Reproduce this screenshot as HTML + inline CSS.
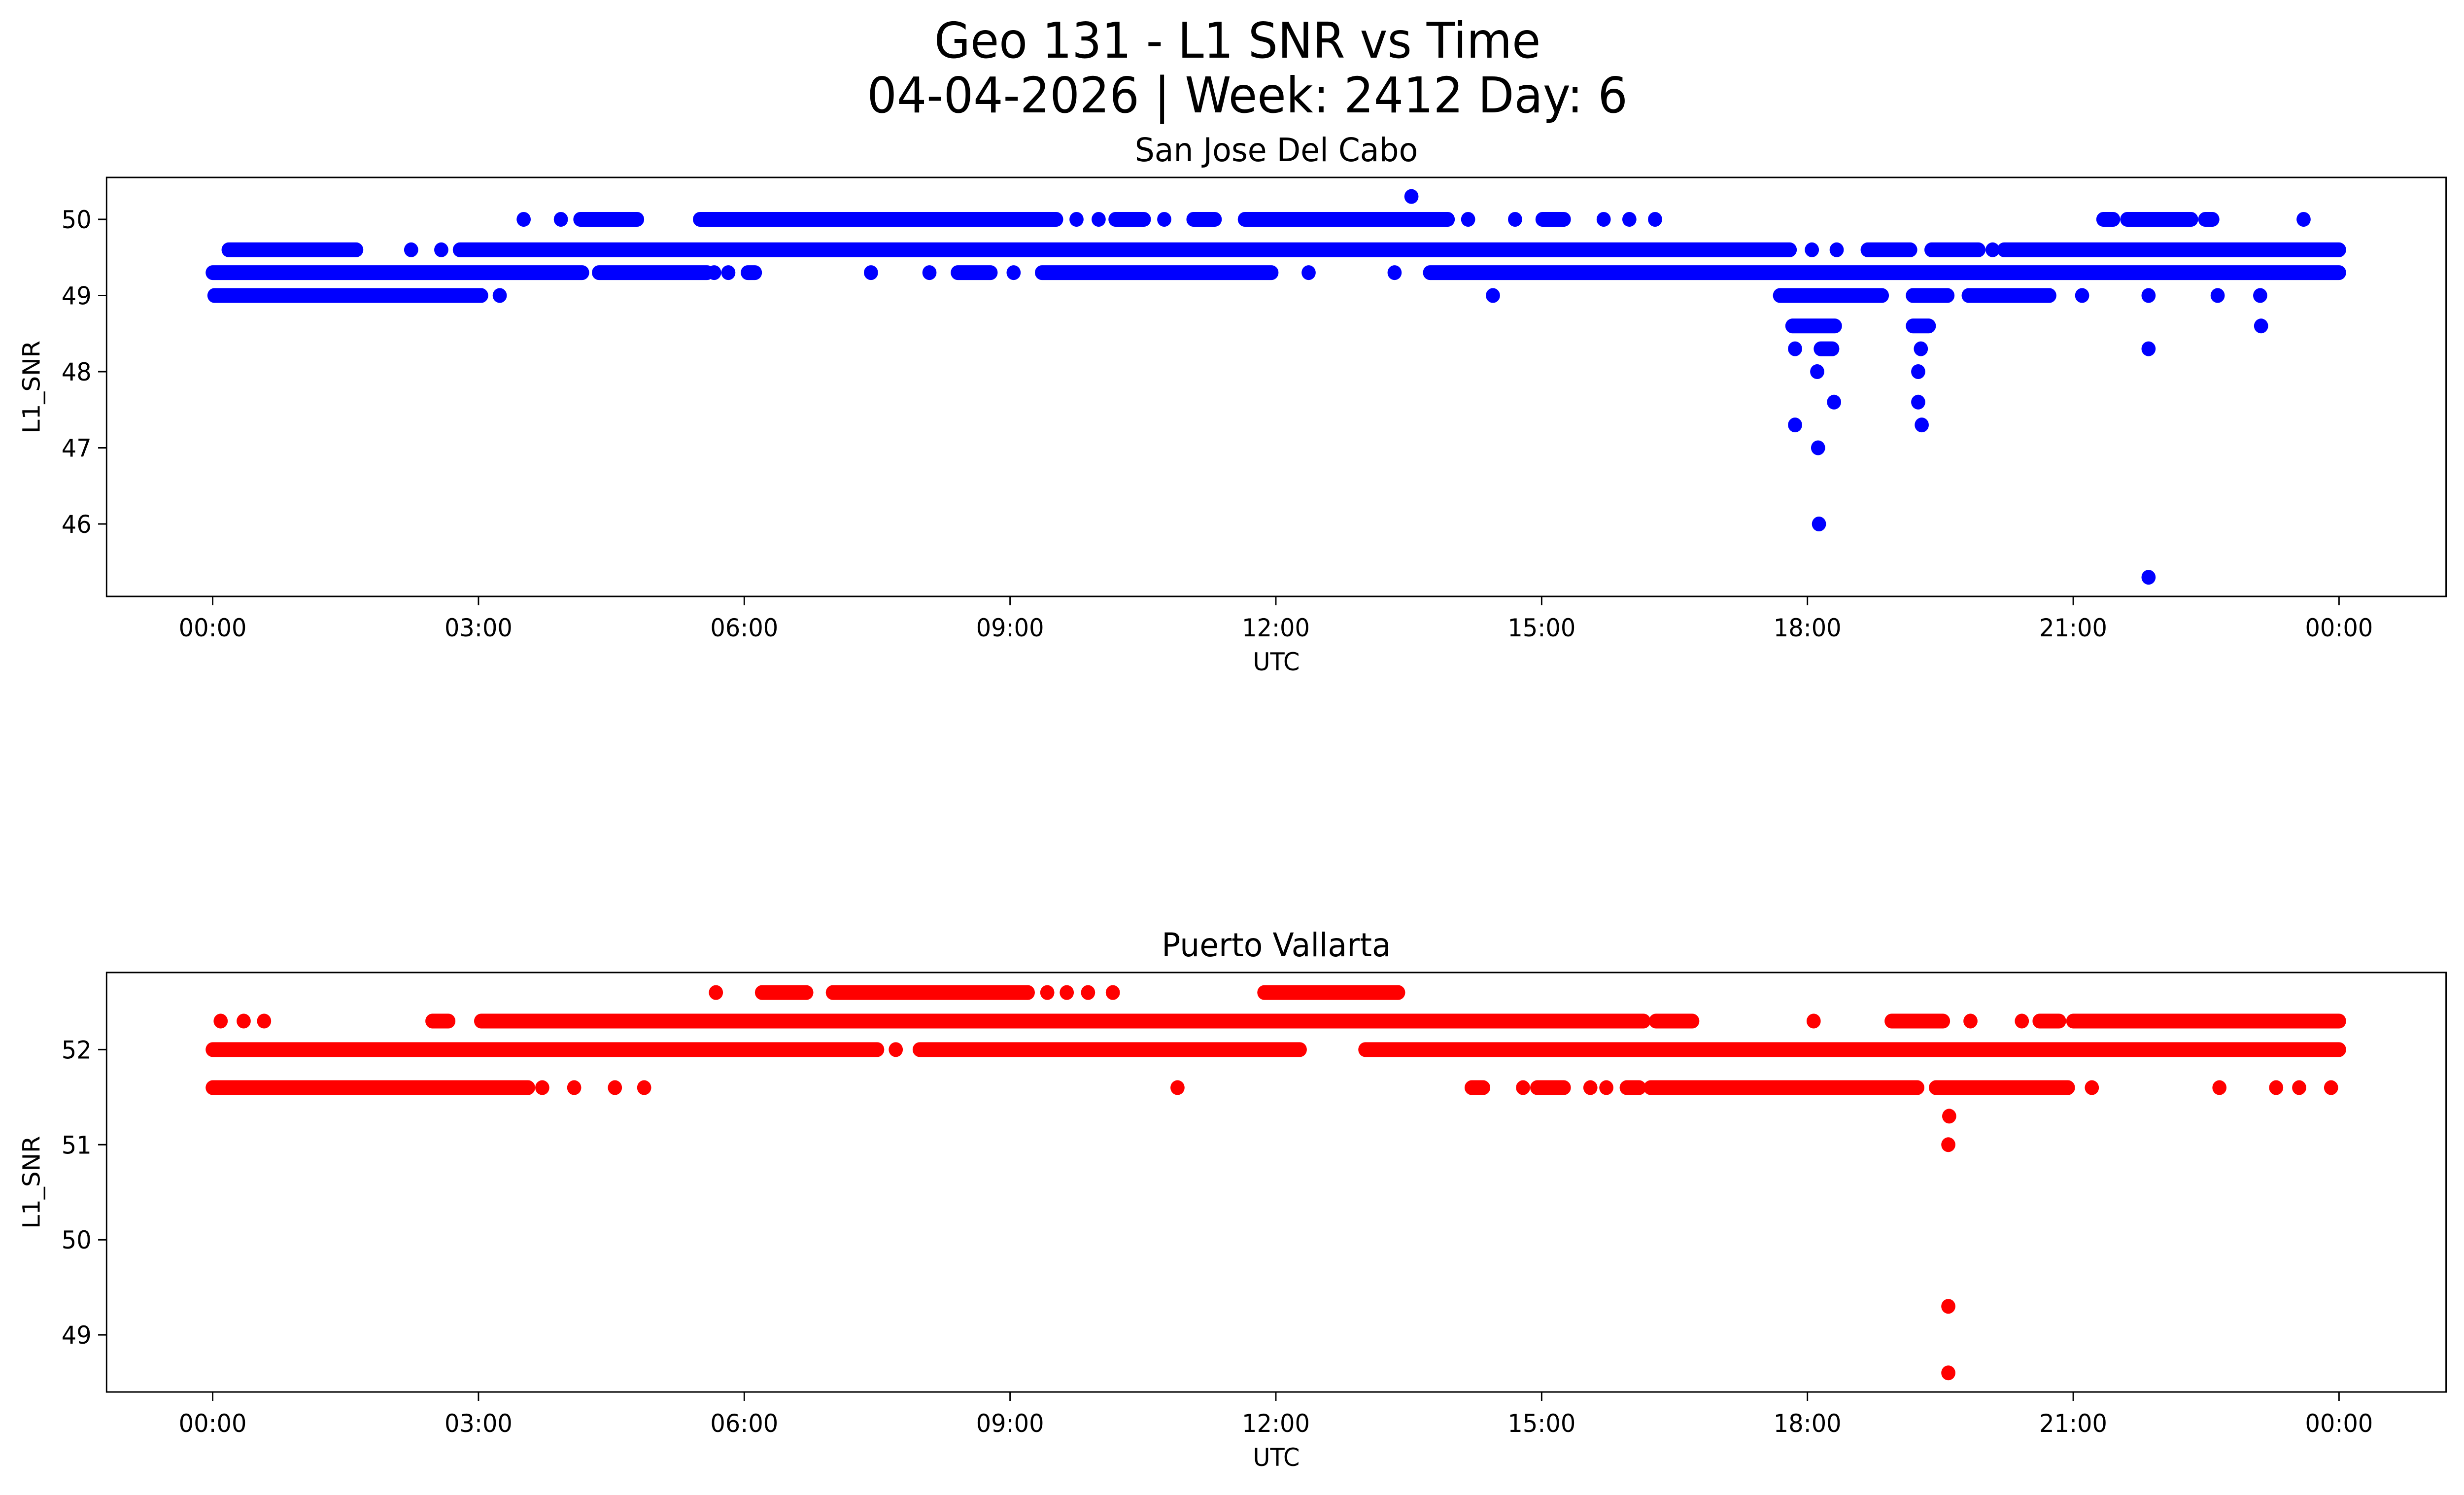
<!DOCTYPE html>
<html><head><meta charset="utf-8"><style>
html,body{margin:0;padding:0;background:#fff;overflow:hidden;width:100%;height:100%;}
svg{display:block;width:100vw;height:100vh;}
text{font-family:"DejaVu Sans","Liberation Sans",sans-serif;fill:#000;}
</style></head><body>
<svg id="fig" viewBox="0 0 5225 3033" preserveAspectRatio="none" xmlns="http://www.w3.org/2000/svg">
<rect width="5225" height="3033" fill="#fff"/>
<text x="2624" y="117" font-size="100" text-anchor="middle" textLength="1286" lengthAdjust="spacingAndGlyphs">Geo 131 - L1 SNR vs Time</text>
<text x="2645" y="228" font-size="100" text-anchor="middle" textLength="1613" lengthAdjust="spacingAndGlyphs">04-04-2026 | Week: 2412 Day: 6</text>
<g id="top"></g>
<g id="bot"></g>
</svg>
<script>
// ---- data (hours UTC, SNR) ----
const xTickHours = [0,3,6,9,12,15,18,21,24];
const xTickLabels = ["00:00","03:00","06:00","09:00","12:00","15:00","18:00","21:00","00:00"];
const topYTicks = [46,47,48,49,50];
const botYTicks = [49,50,51,52];
// San Jose Del Cabo runs
const sjStart = [3.51,3.93,4.15,5.50,9.75,10.0,10.19,10.74,11.07,11.65,14.17,14.70,15.01,15.70,15.99,16.28,21.34,21.61,22.49,23.60,
  13.53,
  0.18,2.24,2.58,2.79,18.05,18.33,18.68,19.40,20.09,20.22,
  0,4.36,5.66,5.82,6.04,7.43,8.09,8.41,9.04,9.36,12.37,13.34,13.74,
  0.02,3.24,14.45,17.69,19.19,19.82,21.10,21.85,22.63,23.11,
  17.83,19.19,23.12,
  17.86,18.15,19.28,21.85,
  18.11,19.25,18.30,19.25,17.86,19.29,18.12,18.13,21.85];
const sjEnd = [3.51,3.93,4.79,9.52,9.75,10.0,10.51,10.74,11.31,13.94,14.17,14.70,15.25,15.70,15.99,16.28,21.45,22.33,22.57,23.60,
  13.53,
  1.62,2.24,2.58,17.80,18.05,18.33,19.16,19.93,20.09,24.0,
  4.17,5.58,5.66,5.82,6.12,7.43,8.09,8.78,9.04,11.95,12.37,13.34,24.0,
  3.03,3.24,14.45,18.84,19.58,20.73,21.10,21.85,22.63,23.11,
  18.31,19.37,23.12,
  17.86,18.28,19.28,21.85,
  18.11,19.25,18.30,19.25,17.86,19.29,18.12,18.13,21.85];
const sjValue = [50,50,50,50,50,50,50,50,50,50,50,50,50,50,50,50,50,50,50,50,
  50.3,
  49.6,49.6,49.6,49.6,49.6,49.6,49.6,49.6,49.6,49.6,
  49.3,49.3,49.3,49.3,49.3,49.3,49.3,49.3,49.3,49.3,49.3,49.3,49.3,
  49.0,49.0,49.0,49.0,49.0,49.0,49.0,49.0,49.0,49.0,
  48.6,48.6,48.6,
  48.3,48.3,48.3,48.3,
  48.0,48.0,47.6,47.6,47.3,47.3,47.0,46.0,45.3];
// Puerto Vallarta runs
const pvStart = [5.68,6.20,7.0,9.42,9.64,9.88,10.16,11.87,
  0.09,0.35,0.58,2.48,3.03,16.29,18.07,18.95,19.84,20.42,20.62,21.0,
  0,7.71,7.98,13.01,
  0,3.72,4.08,4.54,4.87,10.89,14.21,14.79,14.95,15.55,15.73,15.96,16.23,19.45,21.21,22.65,23.29,23.55,23.91,
  19.6,19.59,19.59,19.59];
const pvEnd = [5.68,6.70,9.20,9.42,9.64,9.88,10.16,13.38,
  0.09,0.35,0.58,2.66,16.15,16.70,18.07,19.53,19.84,20.42,20.84,24.0,
  7.50,7.71,12.27,24.0,
  3.56,3.72,4.08,4.54,4.87,10.89,14.34,14.79,15.25,15.55,15.73,16.10,19.24,20.94,21.21,22.65,23.29,23.55,23.91,
  19.6,19.59,19.59,19.59];
const pvValue = [52.6,52.6,52.6,52.6,52.6,52.6,52.6,52.6,
  52.3,52.3,52.3,52.3,52.3,52.3,52.3,52.3,52.3,52.3,52.3,52.3,
  52.0,52.0,52.0,52.0,
  51.6,51.6,51.6,51.6,51.6,51.6,51.6,51.6,51.6,51.6,51.6,51.6,51.6,51.6,51.6,51.6,51.6,51.6,51.6,
  51.3,51.0,49.3,48.6];

const NS = "http://www.w3.org/2000/svg";
function mk(parent, tag, attrs){const e=document.createElementNS(NS,tag);for(const k in attrs)e.setAttribute(k,attrs[k]);parent.appendChild(e);return e;}

function panel(g, cfg){
  const L=226, R=5187, T=cfg.top, B=cfg.bottom;
  const x = h => 451 + h*(4960-451)/24;
  const y = v => cfg.y0 - (v-cfg.v0)*cfg.ppu;
  const title = mk(g,'text',{x:(L+R)/2,y:T-33,'font-size':66,'text-anchor':'middle'});
  
  
  title.textContent = cfg.title;
  const pts = mk(g,'g',{});
  
  
  for(let i=0;i<cfg.s.length;i++){
    const x1=x(cfg.s[i]), x2=x(cfg.e[i]), yy=y(cfg.v[i]);
    let m;
    if(x2-x1<1){ m=mk(pts,'circle',{cx:x1,cy:yy,r:15,fill:cfg.color}); }
    else { m=mk(pts,'line',{x1:x1,x2:x2,y1:yy,y2:yy,stroke:cfg.color,'stroke-width':30,'stroke-linecap':'round'}); }
    
    
  }
  const frame = mk(g,'rect',{x:L,y:T,width:R-L,height:B-T,fill:'none',stroke:'#000','stroke-width':3});
  
  
  xTickHours.forEach((h,i)=>{
    const t=mk(g,'line',{x1:x(h),x2:x(h),y1:B,y2:B+18,stroke:'#000','stroke-width':3});
    
    
    const l=mk(g,'text',{x:x(h),y:B+81,'font-size':50,'text-anchor':'middle'});
    
    
    l.textContent=xTickLabels[i];
  });
  cfg.yt.forEach(v=>{
    const t=mk(g,'line',{x1:L-18,x2:L,y1:y(v),y2:y(v),stroke:'#000','stroke-width':3});
    
    
    const l=mk(g,'text',{x:L-32,y:y(v)+18,'font-size':50,'text-anchor':'end'});
    
    
    l.textContent=String(v);
  });
  const xl=mk(g,'text',{x:(L+R)/2,y:B+150,'font-size':50,'text-anchor':'middle'});
  
  
  xl.textContent='UTC';
  const cy=(T+B)/2;
  const yl=mk(g,'text',{x:84,y:cy,'font-size':50,'text-anchor':'middle',transform:`rotate(-90 84 ${cy})`});
  
  
  yl.textContent='L1_SNR';
}
panel(document.getElementById('top'),{top:360,bottom:1210,y0:445,v0:50,ppu:154.5,color:'#0000ff',title:'San Jose Del Cabo',s:sjStart,e:sjEnd,v:sjValue,yt:topYTicks});
panel(document.getElementById('bot'),{top:1973,bottom:2824,y0:2129.4,v0:52,ppu:192.9,color:'#ff0000',title:'Puerto Vallarta',s:pvStart,e:pvEnd,v:pvValue,yt:botYTicks});
</script>
</body></html>
